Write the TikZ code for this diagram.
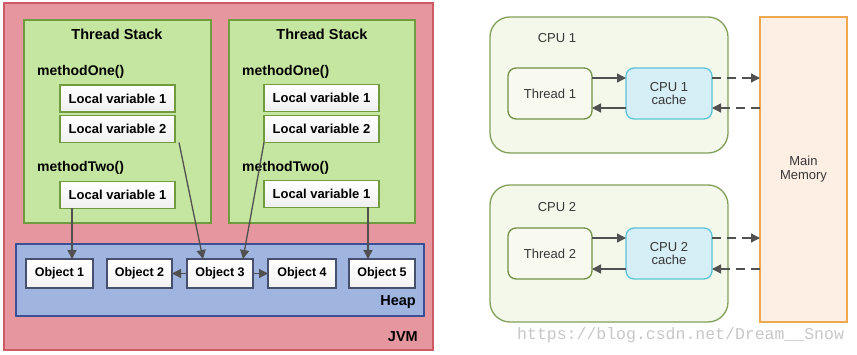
\documentclass[tikz,border=0pt]{standalone}
\usepackage{fontspec}
\setmainfont{Liberation Sans}
\newfontfamily\wmfont{Liberation Mono}
\usetikzlibrary{arrows.meta}
\definecolor{jvmfill}{RGB}{229,150,158}
\definecolor{jvmdraw}{RGB}{205,90,100}
\definecolor{tsfill}{RGB}{197,230,160}
\definecolor{tsdraw}{RGB}{112,155,62}
\definecolor{heapfill}{RGB}{160,180,224}
\definecolor{heapdraw}{RGB}{60,80,150}
\definecolor{objdraw}{RGB}{70,80,110}
\definecolor{arrcol}{RGB}{80,80,80}
\definecolor{cpufill}{RGB}{244,248,234}
\definecolor{cpudraw}{RGB}{130,160,90}
\definecolor{thfill}{RGB}{248,250,240}
\definecolor{thdraw}{RGB}{115,145,70}
\definecolor{cachefill}{RGB}{214,238,246}
\definecolor{cachedraw}{RGB}{90,196,216}
\definecolor{memfill}{RGB}{253,239,228}
\definecolor{memdraw}{RGB}{238,168,80}
\definecolor{txtgray}{RGB}{55,55,55}
\tikzset{
  box/.style={rectangle, inner sep=0pt, outer sep=0pt},
  jvmbox/.style={box, fill=jvmfill, draw=jvmdraw, line width=1.4pt},
  tsbox/.style={box, fill=tsfill, draw=tsdraw, line width=1.5pt},
  lvbox/.style={box, top color=white, bottom color=black!6, draw=tsdraw, line width=1.4pt,
     minimum width=115pt, minimum height=27pt, font=\fontsize{13}{14}\selectfont\bfseries},
  heapbox/.style={box, fill=heapfill, draw=heapdraw, line width=1.4pt},
  objbox/.style={box, top color=white, bottom color=black!5, draw=objdraw, line width=1.2pt,
     minimum height=29pt, font=\fontsize{12.5}{14}\selectfont\bfseries},
  boldlbl/.style={inner sep=0pt, font=\fontsize{14.5}{16}\selectfont\bfseries},
  methlbl/.style={inner sep=0pt, anchor=west, font=\fontsize{14}{16}\selectfont\bfseries},
  arr/.style={draw=arrcol, line width=1.3pt, -{Triangle[length=9pt,width=9pt]}},
  cpubox/.style={box, fill=cpufill, draw=cpudraw, line width=1.3pt, rounded corners=20pt,
     minimum width=238pt},
  thbox/.style={box, fill=thfill, draw=thdraw, line width=1.3pt, rounded corners=8pt,
     minimum width=84pt, minimum height=51pt, text=txtgray, font=\fontsize{13}{14}\selectfont},
  cachebox/.style={box, fill=cachefill, draw=cachedraw, line width=1.3pt, rounded corners=8pt,
     minimum width=86pt, minimum height=51pt, text=txtgray, align=center,
     font=\fontsize{13}{14}\selectfont},
  memlbl/.style={inner sep=0pt, text=txtgray, font=\fontsize{13}{14}\selectfont},
  darr/.style={draw=arrcol, line width=1.3pt, dash pattern=on 9pt off 6pt,
     -{Triangle[length=9pt,width=9pt]}},
}
\begin{document}
\begin{tikzpicture}[x=1pt,y=-1pt]
\useasboundingbox (0,0) rectangle (857,355);
% ---------- JVM ----------
\node[jvmbox, minimum width=429pt, minimum height=347pt] (jvm) at (218.5,176.5) {};
\node[tsbox, minimum width=187pt, minimum height=203pt] (ts1) at (117.5,121.5) {};
\node[tsbox, minimum width=186pt, minimum height=203pt] (ts2) at (322,121.5) {};
\node[boldlbl] (tt1) at (117,34) {Thread Stack};
\node[boldlbl] (tt2) at (322,34) {Thread Stack};
\node[methlbl] (m11) at (37,72) {methodOne()};
\node[methlbl] (m12) at (37,168) {methodTwo()};
\node[methlbl] (m21) at (242,72) {methodOne()};
\node[methlbl] (m22) at (242,168) {methodTwo()};
\node[lvbox] (l11) at (117.5,98.5) {Local variable 1};
\node[lvbox] (l12) at (117.5,129) {Local variable 2};
\node[lvbox] (l13) at (117.5,195) {Local variable 1};
\node[lvbox] (l21) at (321.5,98) {Local variable 1};
\node[lvbox] (l22) at (321.5,129) {Local variable 2};
\node[lvbox] (l23) at (321.5,194) {Local variable 1};
\node[heapbox, minimum width=408pt, minimum height=72pt] (heap) at (220,280) {};
\node[objbox, minimum width=67pt] (o1) at (59.5,273.5) {Object 1};
\node[objbox, minimum width=65pt] (o2) at (139.5,273.5) {Object 2};
\node[objbox, minimum width=66pt] (o3) at (220,273.5) {Object 3};
\node[objbox, minimum width=68pt] (o4) at (302,273.5) {Object 4};
\node[objbox, minimum width=66pt] (o5) at (382,273.5) {Object 5};
\node[boldlbl, anchor=east] (heapl) at (416,302) {Heap};
\node[boldlbl, anchor=east] (jvml) at (418,337) {JVM};
\draw[arr] ([xshift=12pt]l13.south west) -- ([xshift=12pt]l13.south west |- o1.north);
\draw[arr] ([xshift=4pt]l12.south east) -- ([xshift=-17pt]o3.north);
\draw[arr] (l22.south west) -- ([xshift=23pt]o3.north);
\draw[arr] ([xshift=104pt]l23.south west) -- ([xshift=104pt]l23.south west |- o5.north);
\draw[arr] (o3.west) -- (o2.east);
\draw[arr] (o3.east) -- (o4.west);
% ---------- CPUs ----------
\node[box, fill=memfill, draw=memdraw, line width=1.6pt, minimum width=87pt, minimum height=305pt] (mem) at (803.5,169.5) {};
\node[memlbl, align=center] (meml) at (803.5,169) {Main\\Memory};
\node[cpubox, minimum height=136pt] (cpu1) at (609,85) {};
\node[cpubox, minimum height=137pt] (cpu2) at (609,253.5) {};
\node[memlbl] (cl1) at (557,38) {CPU 1};
\node[memlbl] (cl2) at (557,207) {CPU 2};
\node[thbox] (t1) at (550,93.5) {Thread 1};
\node[cachebox] (c1) at (669,93.5) {CPU 1\\[-1pt]cache};
\node[thbox] (t2) at (550,253.5) {Thread 2};
\node[cachebox] (c2) at (669,253.5) {CPU 2\\[-1pt]cache};
\draw[arr] ([yshift=15.5pt]t1.east) -- ([yshift=15.5pt]c1.west);
\draw[arr] ([yshift=-14.5pt]c1.west) -- ([yshift=-14.5pt]t1.east);
\draw[darr] ([yshift=15.5pt]c1.east) -- ([yshift=15.5pt]c1.east -| mem.west);
\draw[darr] ([yshift=-14.5pt]c1.east -| mem.west) -- ([yshift=-14.5pt]c1.east);
\draw[arr] ([yshift=15.5pt]t2.east) -- ([yshift=15.5pt]c2.west);
\draw[arr] ([yshift=-15.5pt]c2.west) -- ([yshift=-15.5pt]t2.east);
\draw[darr] ([yshift=15.5pt]c2.east) -- ([yshift=15.5pt]c2.east -| mem.west);
\draw[darr] ([yshift=-15.5pt]c2.east -| mem.west) -- ([yshift=-15.5pt]c2.east);
\node[inner sep=0pt, anchor=west, text=black!22, font=\wmfont\fontsize{16.5}{18}\selectfont] (wm) at (517,335) {https://blog.csdn.net/Dream\_\_Snow};
\end{tikzpicture}
\end{document}
